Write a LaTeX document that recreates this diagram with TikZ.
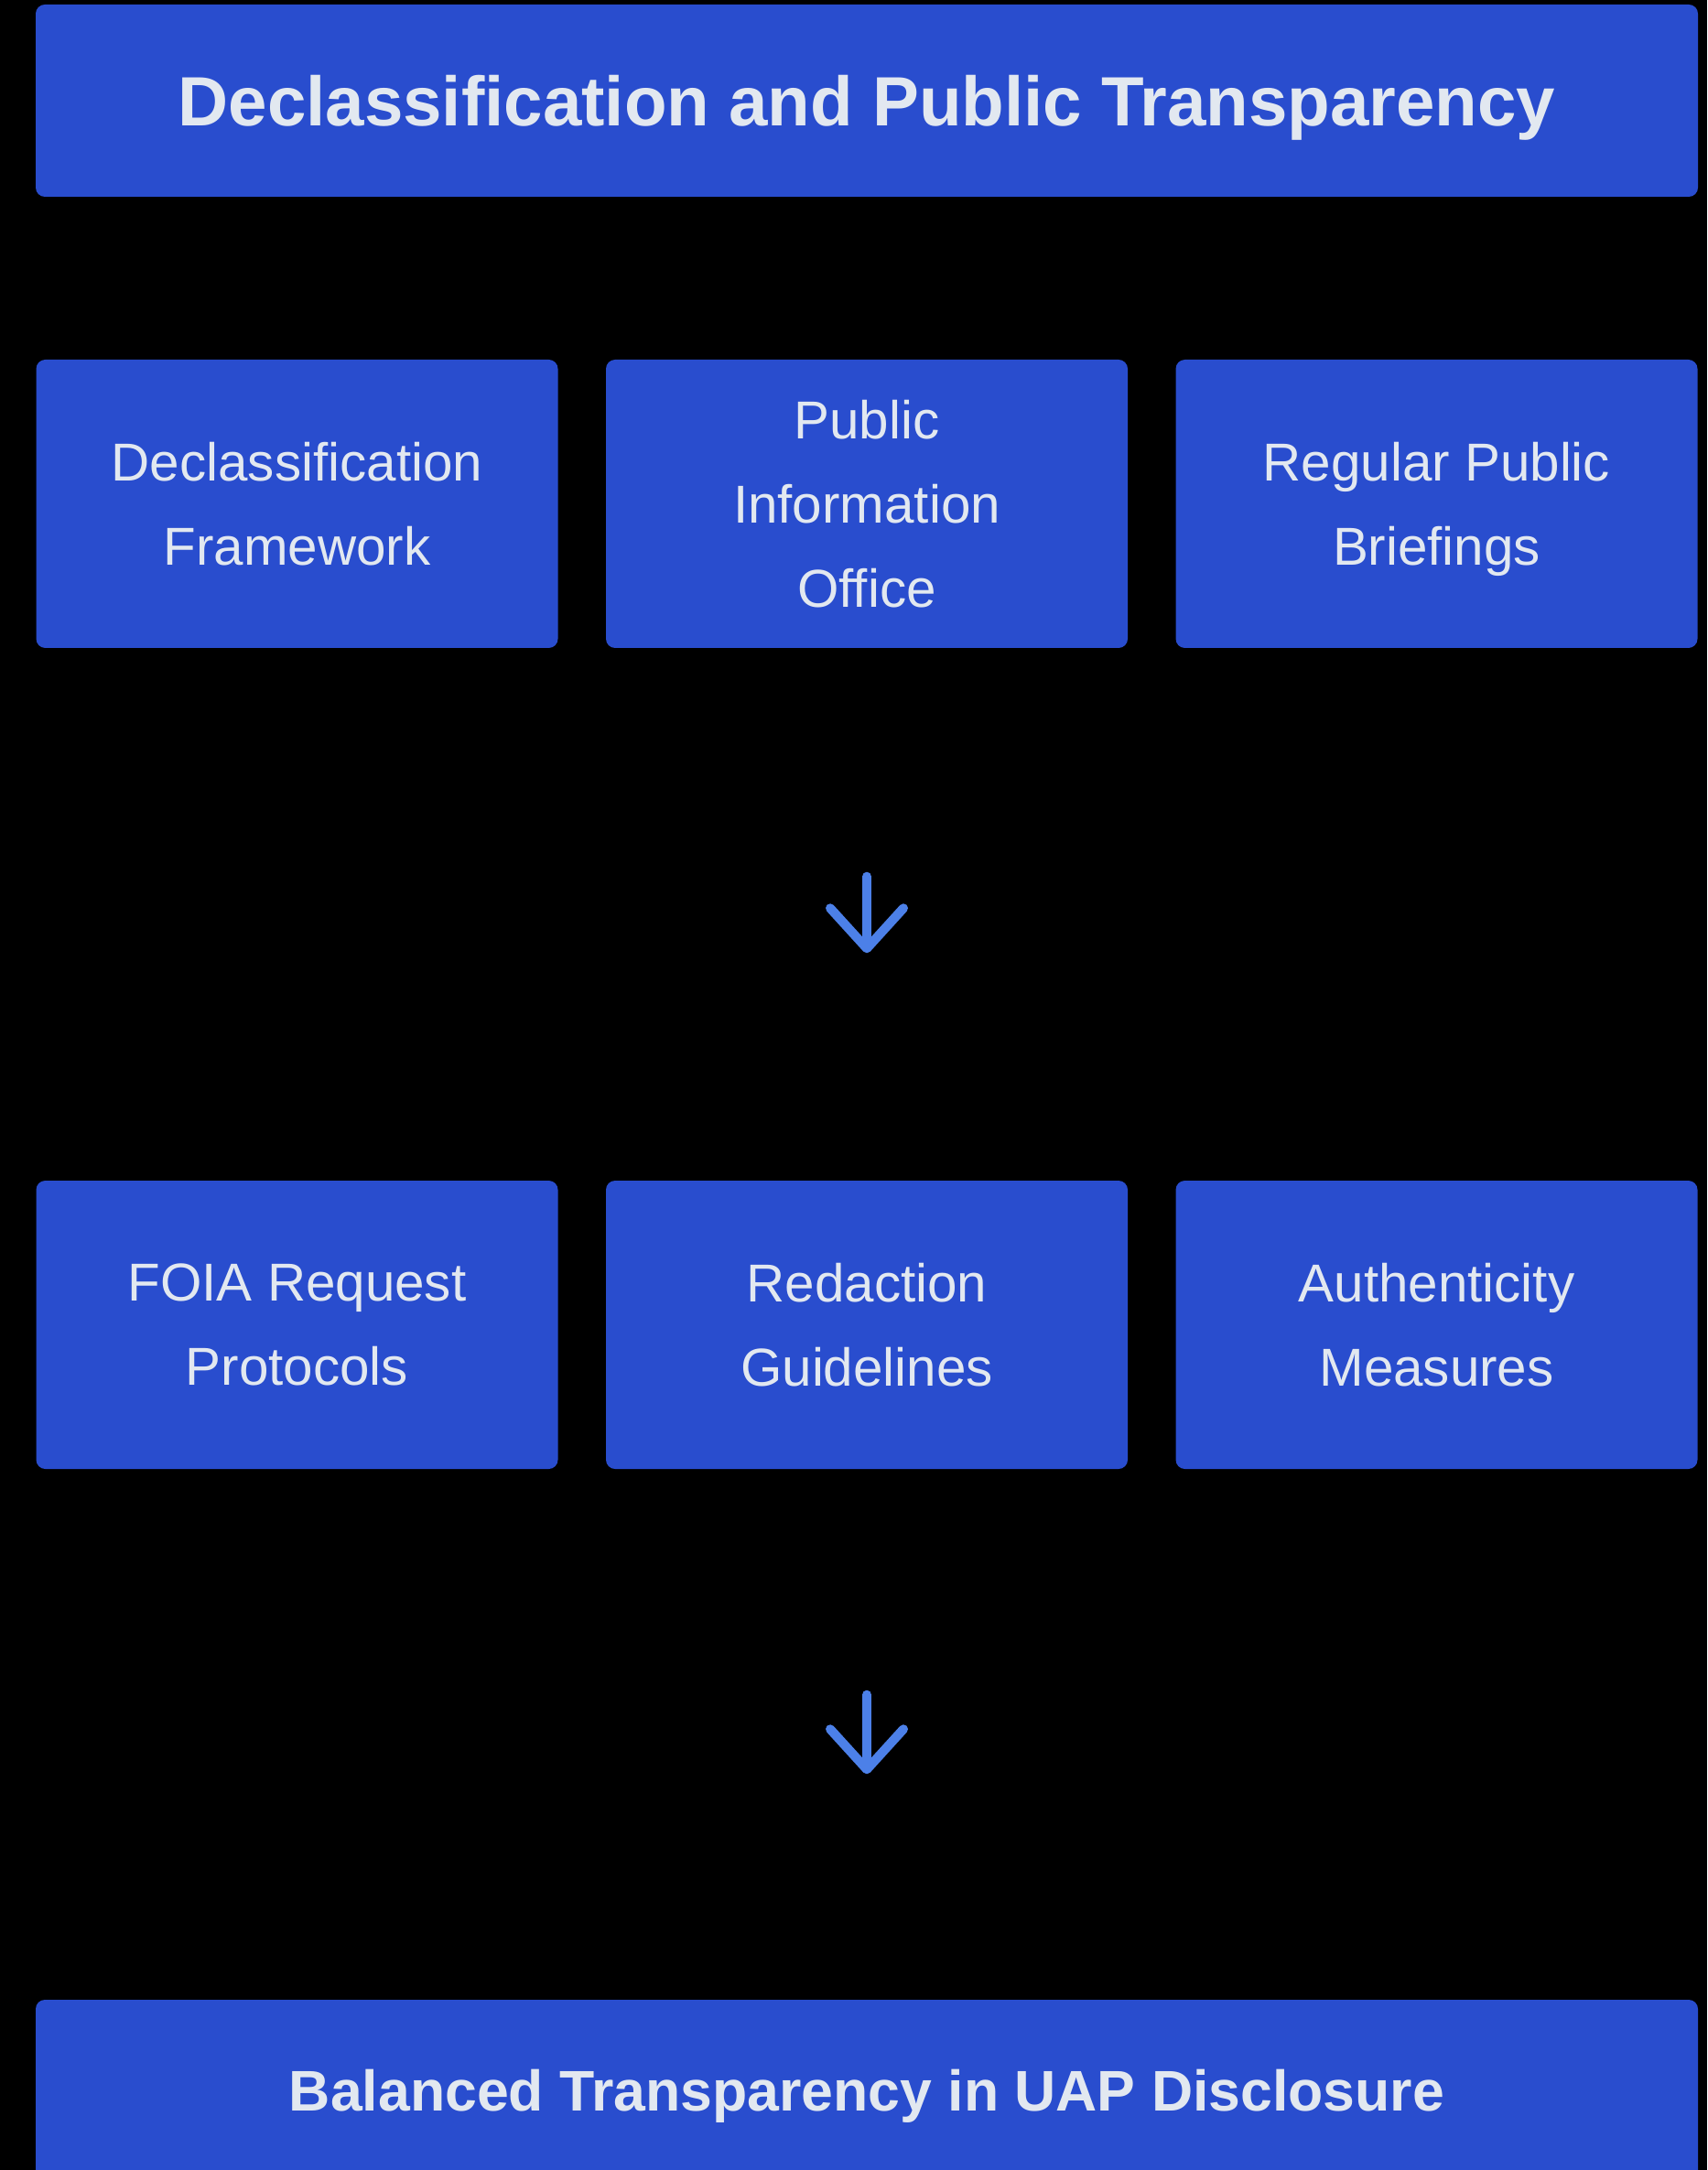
\documentclass[tikz,border=0pt]{standalone}
\usepackage{fontspec}
\setmainfont{Liberation Sans}
\usetikzlibrary{arrows.meta}
\definecolor{boxblue}{RGB}{41,77,206}
\definecolor{boxtext}{RGB}{226,232,240}
\definecolor{arrowblue}{RGB}{76,128,232}
\tikzset{
	headbox/.style={fill=boxblue, rounded corners=0.1cm, minimum width=18.16cm, minimum height=2.1cm, inner sep=0pt, text=boxtext, font=\fontsize{21.7}{26}\selectfont\bfseries},
	stagebox/.style={fill=boxblue, rounded corners=0.1cm, minimum width=5.7cm, minimum height=3.15cm, inner sep=0pt, text=boxtext, align=center, text depth=0pt, font=\fontsize{16.6}{26.2}\selectfont},
	flowarrow/.style={arrowblue, line width=0.1cm, line cap=round, -{Straight Barb[length=0.44cm, width=0.8cm, round]}}
}
\begin{document}
\begin{tikzpicture}
	\useasboundingbox (0,0) rectangle (18.65,-23.71);
	\fill[black] (0,0) rectangle (18.65,-23.71);
	\clip (0,0) rectangle (18.65,-23.71);
	\node[headbox, text depth=0pt] (title) at (9.47,-1.10) {Declassification and Public Transparency};
	% first row
	\node[stagebox] (declass) at (3.245,-5.505) {Declassification\\Framework};
	\node[stagebox] (pio) at (9.47,-5.505) {Public\\Information\\Office};
	\node[stagebox] (briefings) at (15.695,-5.505) {Regular Public\\Briefings};
	% second row
	\node[stagebox] (foia) at (3.245,-14.475) {FOIA Request\\Protocols};
	\node[stagebox] (redact) at (9.47,-14.475) {Redaction\\Guidelines};
	\node[stagebox] (authentic) at (15.695,-14.475) {Authenticity\\Measures};
	\node[headbox, font=\fontsize{17.8}{22}\selectfont\bfseries] (outcome) at (9.47,-22.90) {Balanced Transparency in UAP Disclosure};
	\draw[flowarrow, shorten <=2.49cm, shorten >=2.48cm] (pio.south) -- (redact.north);
	\draw[flowarrow, shorten <=2.46cm, shorten >=2.46cm] (redact.south) -- (outcome.north);
\end{tikzpicture}
\end{document}
